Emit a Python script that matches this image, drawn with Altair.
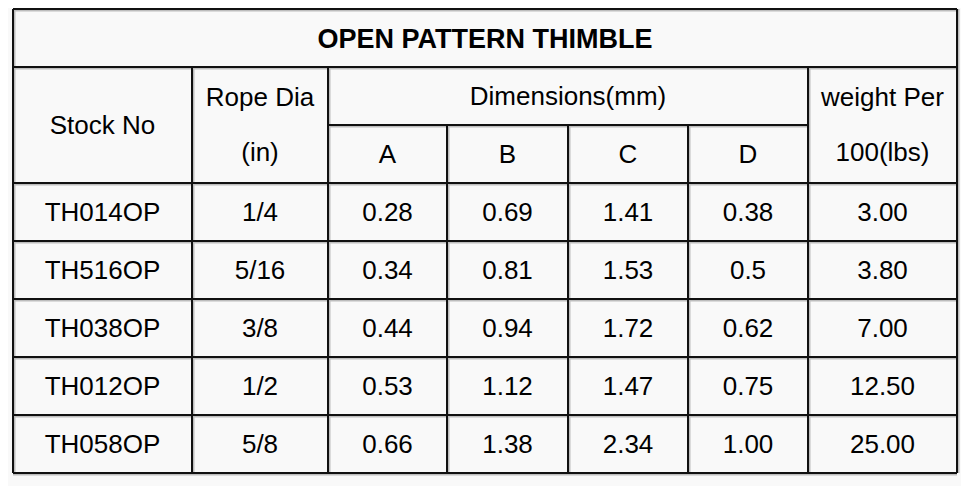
import altair as alt
import pandas as pd

# ---- table content ----
title = "OPEN PATTERN THIMBLE"
stock_no = ["TH014OP", "TH516OP", "TH038OP", "TH012OP", "TH058OP"]
rope_dia = ["1/4", "5/16", "3/8", "1/2", "5/8"]
dim_a = ["0.28", "0.34", "0.44", "0.53", "0.66"]
dim_b = ["0.69", "0.81", "0.94", "1.12", "1.38"]
dim_c = ["1.41", "1.53", "1.72", "1.47", "2.34"]
dim_d = ["0.38", "0.5", "0.62", "0.75", "1.00"]
weight = ["3.00", "3.80", "7.00", "12.50", "25.00"]
dim_letters = ["A", "B", "C", "D"]

# ---- layout (pixel grid of the table) ----
col_edges = [13, 192, 328, 447, 568, 688, 808, 957]
top, title_bottom, sub_split, header_bottom = 9, 67, 125, 183
row_edges = [183, 241, 299, 357, 415, 473]
FONT = "Liberation Sans"
FS = 26
FS_TITLE = 27
CAP_OFFSET = 9  # baseline below visual centre of capitals

def cx(i):
    return (col_edges[i] + col_edges[i + 1]) / 2

title_df = pd.DataFrame([dict(x=(col_edges[0] + col_edges[-1]) / 2, y=(top + title_bottom) / 2 + CAP_OFFSET + 0.5, t=title)])

texts = []
texts.append(dict(x=cx(0), y=(title_bottom + header_bottom) / 2 + CAP_OFFSET, t="Stock No"))
texts.append(dict(x=cx(1), y=106, t="Rope Dia"))
texts.append(dict(x=cx(1), y=161, t="(in)"))
texts.append(dict(x=(col_edges[2] + col_edges[6]) / 2, y=(title_bottom + sub_split) / 2 + CAP_OFFSET, t="Dimensions(mm)"))
for k, letter in enumerate(dim_letters):
    texts.append(dict(x=cx(2 + k), y=(sub_split + header_bottom) / 2 + CAP_OFFSET, t=letter))
texts.append(dict(x=cx(6), y=106, t="weight Per"))
texts.append(dict(x=cx(6), y=161, t="100(lbs)"))

columns = [stock_no, rope_dia, dim_a, dim_b, dim_c, dim_d, weight]
for r in range(len(stock_no)):
    yc = (row_edges[r] + row_edges[r + 1]) / 2 + CAP_OFFSET
    for c, col in enumerate(columns):
        texts.append(dict(x=cx(c), y=yc, t=col[r]))
text_df = pd.DataFrame(texts)

segs = []
L, R = col_edges[0], col_edges[-1]
for yy in [top, title_bottom, header_bottom] + row_edges[1:]:
    segs.append(dict(x=L, x2=R, y=yy, y2=yy))
segs.append(dict(x=col_edges[2], x2=col_edges[6], y=sub_split, y2=sub_split))
segs.append(dict(x=L, x2=L, y=top, y2=row_edges[-1]))
segs.append(dict(x=R, x2=R, y=top, y2=row_edges[-1]))
for i in [1, 2, 6]:
    segs.append(dict(x=col_edges[i], x2=col_edges[i], y=title_bottom, y2=row_edges[-1]))
for i in [3, 4, 5]:
    segs.append(dict(x=col_edges[i], x2=col_edges[i], y=sub_split, y2=row_edges[-1]))
seg_df = pd.DataFrame(segs)
shadow_df = seg_df.copy()
is_h = shadow_df["y"] == shadow_df["y2"]
shadow_df.loc[is_h, ["y", "y2"]] += 1
shadow_df.loc[~is_h, ["x", "x2"]] += 1

W, H = 953, 478
xs = alt.Scale(domain=[8, 8 + W], nice=False, zero=False)
ys = alt.Scale(domain=[8, 8 + H], reverse=True, nice=False, zero=False)

def enc_rule(ch):
    return ch.encode(
        x=alt.X("x:Q", scale=xs, axis=None), x2="x2:Q",
        y=alt.Y("y:Q", scale=ys, axis=None), y2="y2:Q",
    )

shadow = enc_rule(alt.Chart(shadow_df).mark_rule(color="#bdbdbd", strokeWidth=3))
lines = enc_rule(alt.Chart(seg_df).mark_rule(color="#111111", strokeWidth=2))

def enc_text(ch):
    return ch.encode(
        x=alt.X("x:Q", scale=xs, axis=None),
        y=alt.Y("y:Q", scale=ys, axis=None),
        text="t:N",
    )

labels = enc_text(alt.Chart(text_df).mark_text(
    font=FONT, fontSize=FS, color="#000000", align="center", baseline="alphabetic"))
title_txt = enc_text(alt.Chart(title_df).mark_text(
    font=FONT, fontSize=FS_TITLE, fontWeight="bold", color="#000000", align="center", baseline="alphabetic"))

chart = alt.layer(shadow, lines, labels, title_txt).properties(
    width=W, height=H, background="#f9f9f9", padding=0,
    autosize=alt.AutoSizeParams(type="none"),
).configure_view(stroke=None)

chart.save("out.html", embed_options={"renderer": "svg", "actions": False})
